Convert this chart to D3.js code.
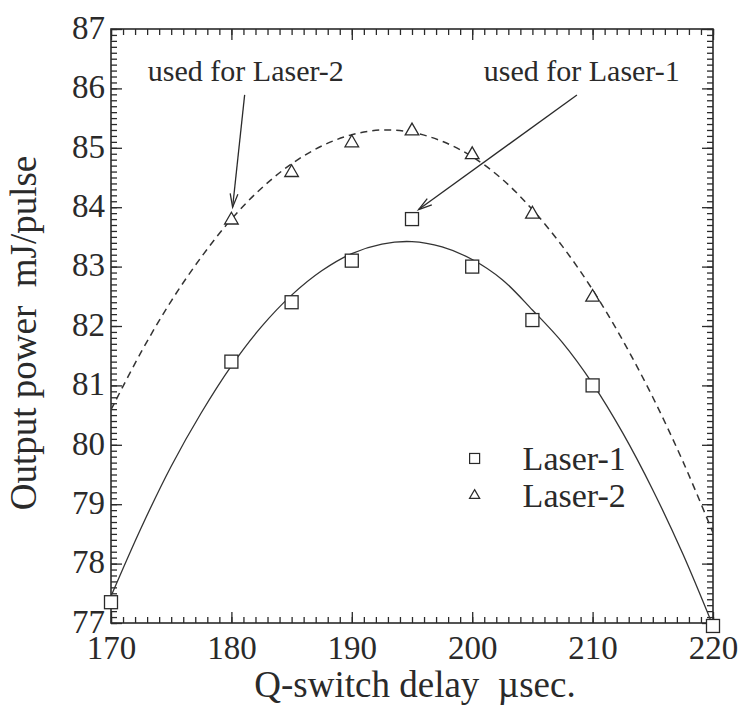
<!DOCTYPE html>
<html>
<head>
<meta charset="utf-8">
<script src="https://cdn.jsdelivr.net/npm/d3@7/dist/d3.min.js"></script>
<style>
  body { margin: 0; background: #fff; }
  svg text { font-family: "Liberation Serif", "DejaVu Serif", "Times New Roman", serif !important; fill: #2a2a2a; }
</style>
</head>
<body>
<svg id="drawing-area"></svg>
<script>
// measured points
var delay1 = [170, 180, 185, 190, 195, 200, 205, 210, 220];
var power1 = [77.35, 81.4, 82.4, 83.1, 83.8, 83.0, 82.1, 81.0, 76.95];
var delay2 = [180, 185, 190, 195, 200, 205, 210];
var power2 = [83.8, 84.6, 85.1, 85.3, 84.9, 83.9, 82.5];

// fitted curves, every 2.5 usec
var fitX  = [170, 172.5, 175, 177.5, 180, 182.5, 185, 187.5, 190, 192.5, 195,
             197.5, 200, 202.5, 205, 207.5, 210, 212.5, 215, 217.5, 220];
var fit1  = [77.45, 78.6, 79.64, 80.54, 81.33, 81.99, 82.52, 82.93, 83.22, 83.38, 83.42,
             83.33, 83.12, 82.78, 82.27, 81.72, 81.03, 80.2, 79.24, 78.16, 76.95];
var fit2  = [80.59, 81.56, 82.42, 83.16, 83.8, 84.32, 84.73, 85.03, 85.22, 85.3, 85.26,
             85.11, 84.85, 84.47, 83.96, 83.34, 82.61, 81.76, 80.8, 79.72, 78.52];

var xTicks = [170, 180, 190, 200, 210, 220];
var yTicks = [77, 78, 79, 80, 81, 82, 83, 84, 85, 86, 87];

var width = 743;
var height = 716;
var margin = {left: 111, right: 30, top: 29, bottom: 93};
var iw = width - margin.left - margin.right;
var ih = height - margin.top - margin.bottom;
var ink = "#2a2a2a";
var serif = '"Liberation Serif", "DejaVu Serif", serif';

var svg = d3.select("#drawing-area")
    .attr("width", width)
    .attr("height", height);

var x = d3.scaleLinear().domain([170, 220]).range([0, iw]);
var y = d3.scaleLinear().domain([77, 87]).range([ih, 0]);

var g = svg.append("g")
    .attr("transform", "translate(" + margin.left + "," + margin.top + ")");

g.append("clipPath").attr("id", "plot-clip")
  .append("rect").attr("width", iw).attr("height", ih);

// ticks: major with labels, minor without, all pointing inward
function drawAxis(axisFn, scale, major, minor, transform, labels) {
    var big = g.append("g").attr("transform", transform)
        .call(axisFn(scale).tickValues(major).tickSizeInner(-11).tickSizeOuter(0)
              .tickPadding(labels ? 6 : 0)
              .tickFormat(labels ? d3.format("d") : ""));
    var small = g.append("g").attr("transform", transform)
        .call(axisFn(scale).tickValues(minor).tickSizeInner(-6).tickSizeOuter(0)
              .tickFormat(""));
    [big, small].forEach(function(a){
        a.attr("font-family", serif);
        a.select(".domain").remove();
        a.selectAll("line").attr("stroke", ink).attr("stroke-width", 1.3);
    });
    big.selectAll("text").style("font-size", "33px").style("font-family", serif).attr("fill", ink);
    return big;
}

var xMinor = d3.range(170, 221, 1);
var yMinor = d3.range(0, 101).map(function(i){ return 77 + i / 10; });

var bx = drawAxis(d3.axisBottom, x, xTicks, xMinor, "translate(0," + ih + ")", true);
bx.selectAll("text").attr("dy", "0.9em");
drawAxis(d3.axisTop, x, xTicks, xMinor, "translate(0,0)", false);
var ly = drawAxis(d3.axisLeft, y, yTicks, yMinor, "translate(0,0)", true);
ly.selectAll("text").attr("dy", "0.28em");
drawAxis(d3.axisRight, y, yTicks, yMinor, "translate(" + iw + ",0)", false);

g.append("rect")
    .attr("width", iw).attr("height", ih)
    .attr("fill", "none").attr("stroke", ink).attr("stroke-width", 1.6);

// fitted curves
var fitLine = d3.line().curve(d3.curveCatmullRom)
    .x(function(d){ return x(d[0]); })
    .y(function(d){ return y(d[1]); });

var curves = g.append("g").attr("clip-path", "url(#plot-clip)");
curves.append("path")
    .attr("d", fitLine(d3.zip(fitX, fit1)))
    .attr("fill", "none").attr("stroke", "#333").attr("stroke-width", 1.3);
curves.append("path")
    .attr("d", fitLine(d3.zip(fitX, fit2)))
    .attr("fill", "none").attr("stroke", "#333").attr("stroke-width", 1.5)
    .attr("stroke-dasharray", "7,5");

// markers
var sq = 13;
g.append("g").selectAll("rect")
    .data(d3.zip(delay1, power1))
    .enter().append("rect")
    .attr("x", function(d){ return x(d[0]) - sq / 2; })
    .attr("y", function(d){ return y(d[1]) - sq / 2; })
    .attr("width", sq).attr("height", sq)
    .attr("fill", "#fff").attr("stroke", ink).attr("stroke-width", 1.3);

var tri = d3.symbol().type(d3.symbolTriangle).size(80);
g.append("g").selectAll("path")
    .data(d3.zip(delay2, power2))
    .enter().append("path")
    .attr("d", tri)
    .attr("transform", function(d){
        return "translate(" + x(d[0]) + "," + (y(d[1]) + 1) + ")";
    })
    .attr("fill", "#fff").attr("stroke", ink).attr("stroke-width", 1.3);

// annotations: text position, arrow tail and tip in data units
var notes = [
    { label: "used for Laser-2", tx: 181.2, ty: 86.12, from: [181.1, 85.89], to: [180.1, 84.0] },
    { label: "used for Laser-1", tx: 209.1, ty: 86.12, from: [208.7, 85.89], to: [195.55, 83.96] }
];
notes.forEach(function(n){
    g.append("text")
        .attr("x", x(n.tx)).attr("y", y(n.ty))
        .attr("text-anchor", "middle")
        .style("font-size", "30px")
        .text(n.label);
    var x1 = x(n.from[0]), y1 = y(n.from[1]), x2 = x(n.to[0]), y2 = y(n.to[1]);
    g.append("line")
        .attr("x1", x1).attr("y1", y1).attr("x2", x2).attr("y2", y2)
        .attr("stroke", ink).attr("stroke-width", 1.3);
    var a = Math.atan2(y1 - y2, x1 - x2), len = 14, spread = 0.28;
    g.append("path")
        .attr("d", "M" + (x2 + len * Math.cos(a - spread)) + "," + (y2 + len * Math.sin(a - spread)) +
                   "L" + x2 + "," + y2 +
                   "L" + (x2 + len * Math.cos(a + spread)) + "," + (y2 + len * Math.sin(a + spread)))
        .attr("fill", "none").attr("stroke", ink).attr("stroke-width", 1.3);
});

// legend
var legend = g.append("g").attr("transform", "translate(" + (x(200.2)) + "," + (y(79.77)) + ")");
legend.append("rect").attr("x", -5).attr("y", -5).attr("width", 10).attr("height", 10)
    .attr("fill", "#fff").attr("stroke", ink).attr("stroke-width", 1.2);
legend.append("text").attr("x", 48).attr("y", 12).style("font-size", "34px").text("Laser-1");
legend.append("path").attr("d", d3.symbol().type(d3.symbolTriangle).size(45))
    .attr("transform", "translate(0,37)")
    .attr("fill", "#fff").attr("stroke", ink).attr("stroke-width", 1.2);
legend.append("text").attr("x", 48).attr("y", 49).style("font-size", "34px").text("Laser-2");

// axis titles
svg.append("text")
    .attr("x", margin.left + iw / 2 + 3).attr("y", 697)
    .attr("text-anchor", "middle")
    .style("font-size", "37px")
    .style("white-space", "pre")
    .text("Q-switch delay  \u00b5sec.");

svg.append("text")
    .attr("transform", "translate(36," + (margin.top + ih / 2 + 7) + ") rotate(-90)")
    .attr("text-anchor", "middle")
    .style("font-size", "37px")
    .style("white-space", "pre")
    .text("Output power  mJ/pulse");
</script>
</body>
</html>
